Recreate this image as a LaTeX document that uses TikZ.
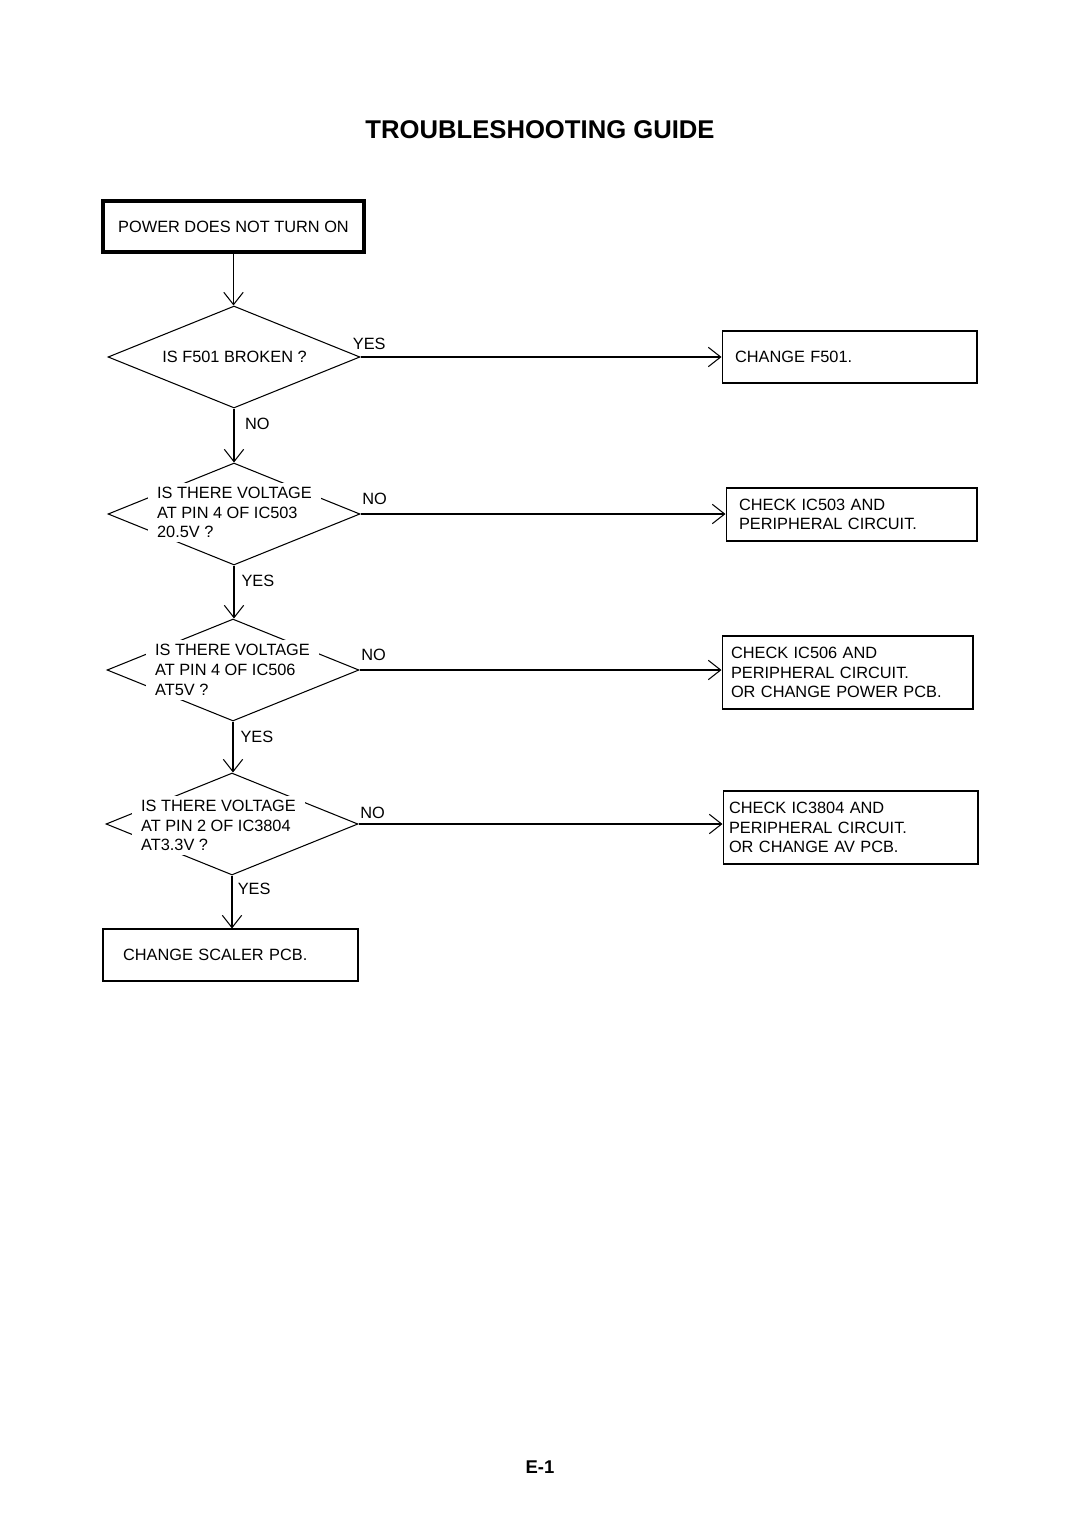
\documentclass[tikz,border=0pt]{standalone}
\usepackage{fontspec}
\setmainfont{Liberation Sans}
\usetikzlibrary{shapes.geometric,arrows.meta}

\begin{document}
\begin{tikzpicture}
    [%%%%%%%%%%%%%%%%%%%%%%%%%%%%%%
        x=0.02cm, y=-0.02cm,
        every node/.style={font=\fontsize{9.3}{11}\selectfont},
        startbox/.style={rectangle,draw=black,line width=2.2pt,minimum width=5.22cm,minimum height=1.02cm},
        fixbox/.style={rectangle,draw=black,line width=0.6pt,align=left,inner ysep=0pt},
        question/.style={diamond,draw=black,line width=0.6pt,inner sep=0pt,minimum width=5.04cm,minimum height=2.04cm},
        qline/.style={fill=white,anchor=west,inner xsep=5pt,inner ysep=2.5pt},
        arr/.style={-{Straight Barb[length=7pt,width=11pt]},line width=0.6pt},
        lbl/.style={inner sep=2pt},
    ]%%%%%%%%%%%%%%%%%%%%%%%%%%%%%%

\useasboundingbox (0,0) rectangle (1080,1528);

\node (title) at (540,130) {\bfseries\fontsize{14.6}{16}\selectfont TROUBLESHOOTING GUIDE};

% left column
\node[startbox] (start) at (233.5,226.5) {POWER DOES NOT TURN ON};
\node[question] (q1) at (234,357) {};
\node[question] (q2) at (234,514) {};
\node[question] (q3) at (233,670) {};
\node[question] (q4) at (232,824) {};

\node (q1l1) at (234.5,357) {IS F501 BROKEN ?};
\foreach \txt [count=\i] in {IS THERE VOLTAGE,AT PIN 4 OF IC503,20.5V ?}
    \node[qline] (q2l\i) at (148,473.5+19.5*\i) {\txt};
\foreach \txt [count=\i] in {IS THERE VOLTAGE,AT PIN 4 OF IC506,AT5V ?}
    \node[qline] (q3l\i) at (146,630+20*\i) {\txt};
\foreach \txt [count=\i] in {IS THERE VOLTAGE,AT PIN 2 OF IC3804,AT3.3V ?}
    \node[qline] (q4l\i) at (132,786.5+19.5*\i) {\txt};

\node[fixbox,text width=4.3cm,inner xsep=0.4cm,minimum height=1.04cm] (fix5) at (230.5,955) {CHANGE SCALER PCB.};

% right column
\node[fixbox,text width=4.58cm,inner xsep=0.26cm,minimum height=1.04cm] (fix1) at (849.5,357) {CHANGE F501.};
\node[fixbox,text width=4.5cm,inner xsep=0.26cm,minimum height=1.06cm] (fix2) at (851.5,514.5) {CHECK IC503 AND\\PERIPHERAL CIRCUIT.};
\node[fixbox,text width=4.66cm,inner xsep=0.18cm,minimum height=1.46cm] (fix3) at (847.5,672.5) {CHECK IC506 AND\\PERIPHERAL CIRCUIT.\\OR CHANGE POWER PCB.};
\node[fixbox,text width=4.86cm,inner xsep=0.12cm,minimum height=1.46cm] (fix4) at (850.5,827.5) {CHECK IC3804 AND\\PERIPHERAL CIRCUIT.\\OR CHANGE AV PCB.};

% connectors
\draw[arr] (start.south |- start.south) -- (start.south |- q1.north);
\draw[arr] (q1.south) -- node[lbl,pos=0,anchor=north west,xshift=4pt,yshift=-3pt]{NO} (q1.south |- q2.north);
\draw[arr] (q2.south) -- node[lbl,pos=0,anchor=north west,xshift=2pt,yshift=-3pt]{YES} (q2.south |- q3.north);
\draw[arr] (q3.south) -- node[lbl,pos=0,anchor=north west,xshift=2pt,yshift=-3pt]{YES} (q3.south |- q4.north);
\draw[arr] (q4.south) -- node[lbl,pos=0,anchor=north west,xshift=1pt,yshift=-2pt]{YES} (q4.south |- fix5.north);

\draw[arr] (q1.east) -- node[lbl,pos=0,anchor=south,xshift=5pt,yshift=2pt]{YES} (fix1.west);
\draw[arr] (q2.east) -- node[lbl,pos=0,anchor=south,xshift=8pt,yshift=3pt]{NO} (q2.east -| fix2.west);
\draw[arr] (q3.east) -- node[lbl,pos=0,anchor=south,xshift=8pt,yshift=3pt]{NO} (q3.east -| fix3.west);
\draw[arr] (q4.east) -- node[lbl,pos=0,anchor=south,xshift=8pt,yshift=1pt]{NO} (q4.east -| fix4.west);

\node (page) at (540,1467) {\bfseries\fontsize{10.5}{12}\selectfont E-1};
\end{tikzpicture}
\end{document}
